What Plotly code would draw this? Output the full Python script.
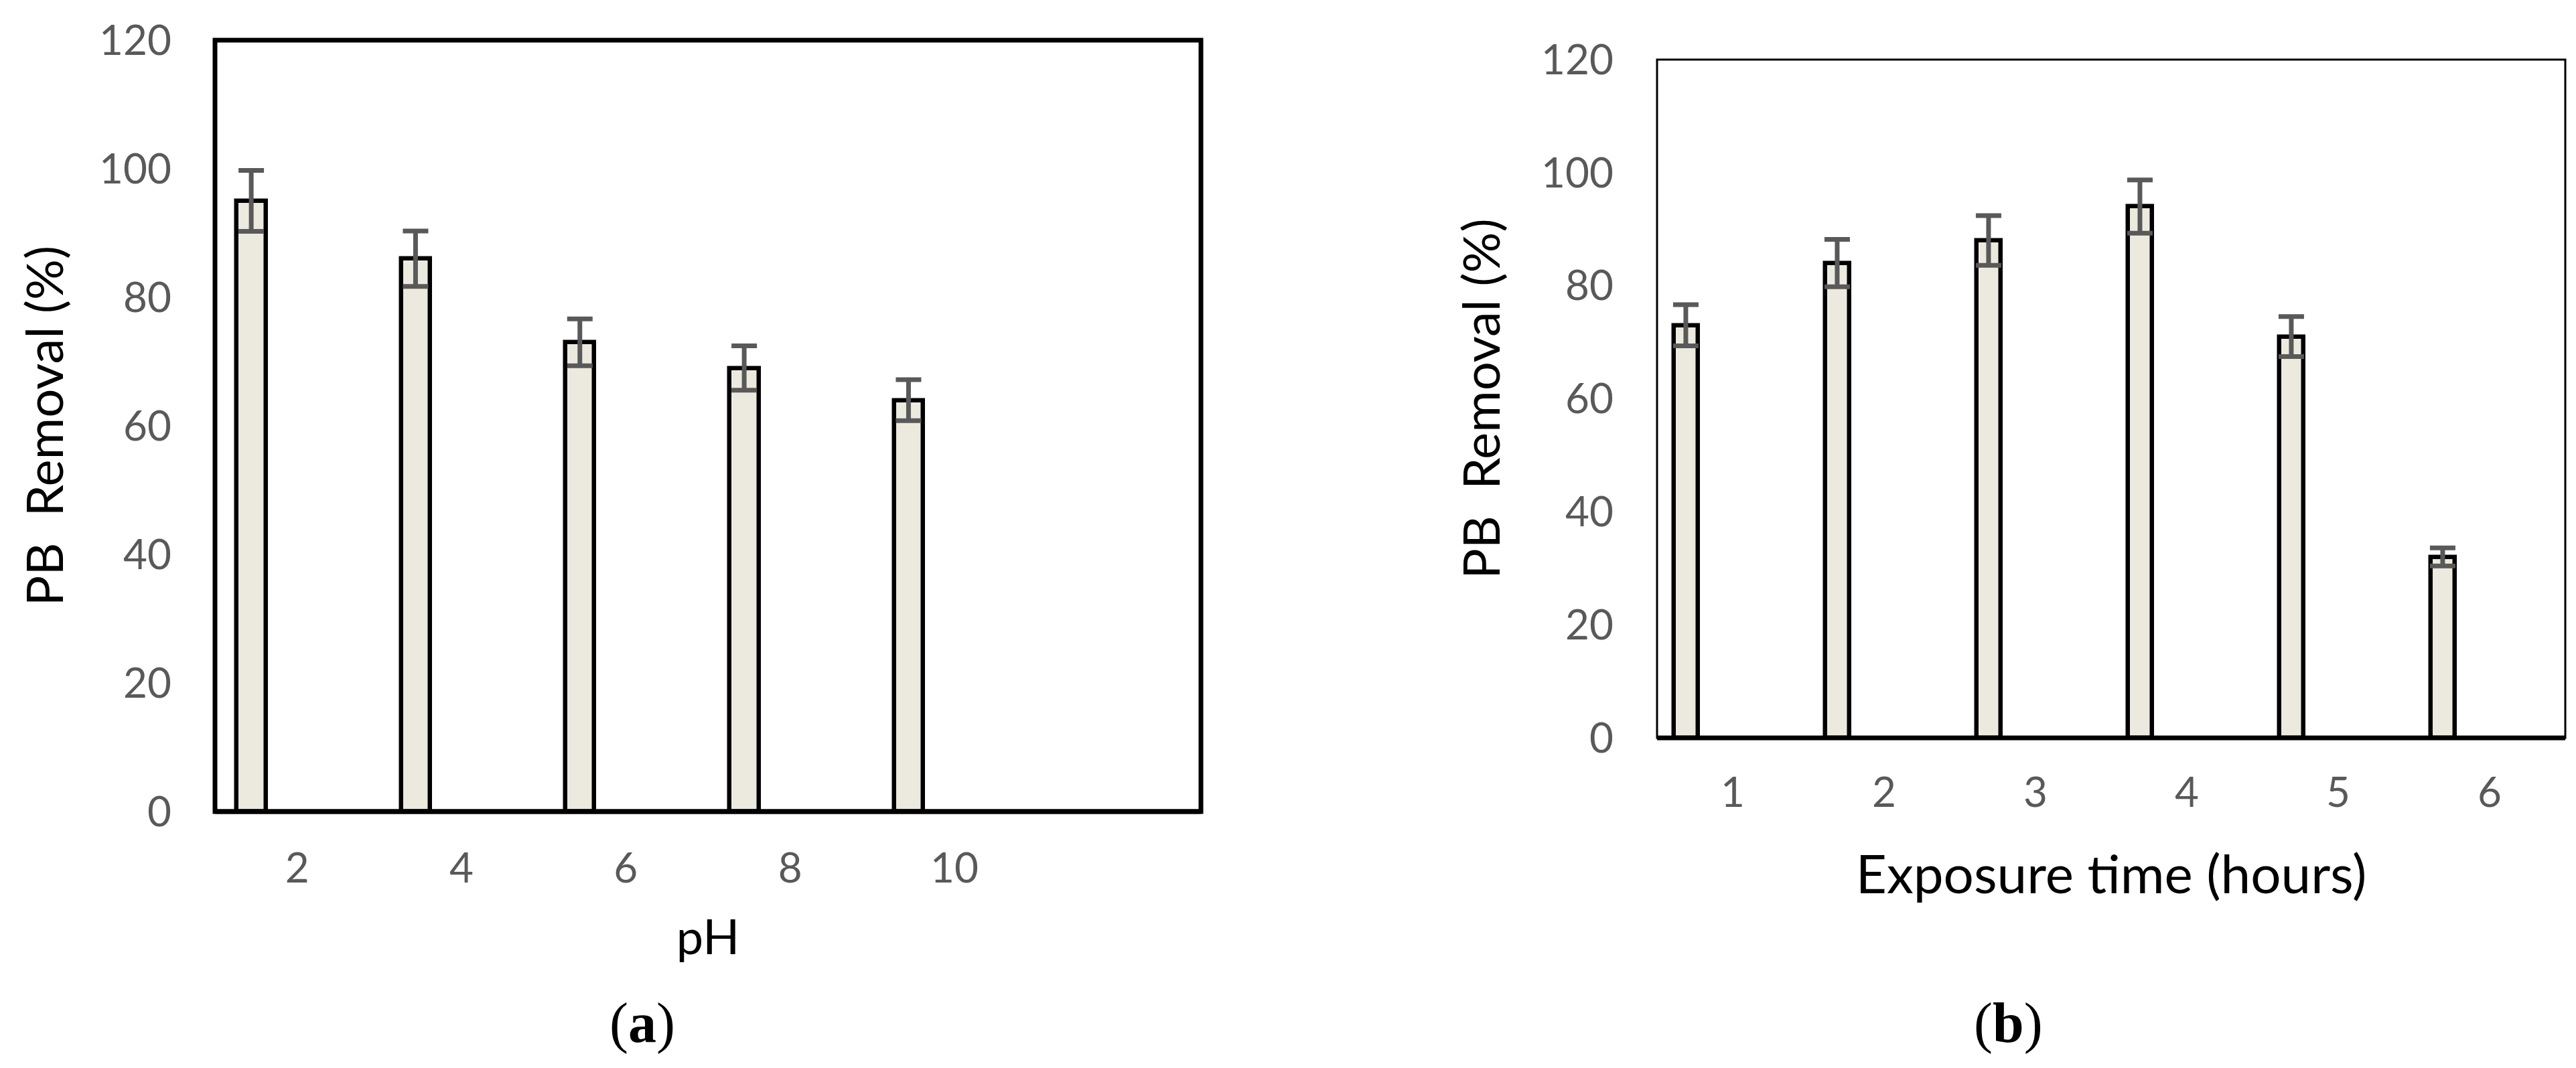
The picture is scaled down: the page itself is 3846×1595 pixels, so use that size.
import plotly.graph_objects as go

# (a) effect of pH
ph_labels = ["2", "4", "6", "8", "10"]
ph_removal = [95, 86, 73, 69, 64]

# (b) effect of exposure time
time_labels = ["1", "2", "3", "4", "5", "6"]
time_removal = [73, 84, 88, 94, 71, 32]

ERR_PCT = 5  # error bars shown as 5 % of the value
y_ticks = [0, 20, 40, 60, 80, 100, 120]

W, H = 3846, 1595
BAR_FILL = "#ECEADF"
GREY = "#595959"
SANS = "Lato, Carlito, Calibri, sans-serif"
TICK_FONT = dict(family=SANS, size=62, color=GREY)


def px_x(v):
    return v / W


def px_y(v):
    return 1 - v / H


fig = go.Figure()

fig.add_trace(go.Bar(
    x=list(range(1, len(ph_labels) + 1)),
    y=ph_removal,
    width=0.177, offset=-0.368,
    marker=dict(color=BAR_FILL, line=dict(color="black", width=6.5)),
    error_y=dict(type="percent", value=ERR_PCT, color=GREY, thickness=7, width=19),
    xaxis="x", yaxis="y", showlegend=False,
))

fig.add_trace(go.Bar(
    x=list(range(1, len(time_labels) + 1)),
    y=time_removal,
    width=0.156, offset=-0.388,
    marker=dict(color=BAR_FILL, line=dict(color="black", width=6.5)),
    error_y=dict(type="percent", value=ERR_PCT, color=GREY, thickness=7, width=19),
    xaxis="x2", yaxis="y2", showlegend=False,
))

fig.update_layout(
    width=W, height=H,
    margin=dict(l=0, r=0, t=0, b=0),
    paper_bgcolor="white", plot_bgcolor="white",
    bargap=0,
    # ===== panel (a) =====
    xaxis=dict(
        domain=[px_x(313), px_x(1785)],
        range=[0.5, 6.5],
        tickvals=list(range(1, len(ph_labels) + 1)), ticktext=ph_labels,
        tickfont=TICK_FONT, ticklabelstandoff=43,
        showgrid=False, zeroline=False, automargin=False, showline=False,
        title=dict(text="pH", font=dict(family=SANS, size=72, color="black"), standoff=44),
        anchor="y",
    ),
    yaxis=dict(
        domain=[px_y(1204), px_y(52)],
        range=[0, 120],
        tickvals=y_ticks,
        tickfont=TICK_FONT, ticklabelstandoff=64,
        showgrid=False, zeroline=False, automargin=False, showline=False,
        title=dict(text="PB  Removal (%)", font=dict(family=SANS, size=76, color="black"), standoff=28),
        anchor="x",
    ),
    # ===== panel (b) =====
    xaxis2=dict(
        domain=[px_x(2466), px_x(3822)],
        range=[0.5, 6.5],
        tickvals=list(range(1, len(time_labels) + 1)), ticktext=time_labels,
        tickfont=TICK_FONT, ticklabelstandoff=40,
        showgrid=False, zeroline=False, automargin=False, showline=False,
        title=dict(text="Exposure time (hours)", font=dict(family=SANS, size=80, color="black"), standoff=60),
        anchor="y2",
    ),
    yaxis2=dict(
        domain=[px_y(1094), px_y(81)],
        range=[0, 120],
        tickvals=y_ticks,
        tickfont=TICK_FONT, ticklabelstandoff=64,
        showgrid=False, zeroline=False, automargin=False, showline=False,
        title=dict(text="PB  Removal (%)", font=dict(family=SANS, size=76, color="black"), standoff=36),
        anchor="x2",
    ),
)

# frames: panel (a) heavy all round, panel (b) thin with a heavy category axis
for ax, frame_w in [("", 7), ("2", 3)]:
    fig.add_shape(type="rect", xref=f"x{ax} domain", yref=f"y{ax} domain",
                  x0=0, x1=1, y0=0, y1=1, line=dict(color="black", width=frame_w))
    fig.add_shape(type="line", xref=f"x{ax} domain", yref=f"y{ax} domain",
                  x0=0, x1=1, y0=0, y1=0, line=dict(color="black", width=7))

# sub-figure labels
for txt, xc in [("(<b>a</b>)", 951), ("(<b>b</b>)", 2990)]:
    fig.add_annotation(
        text=txt, x=px_x(xc), y=px_y(1520), xref="paper", yref="paper",
        showarrow=False, xanchor="center", yanchor="middle",
        font=dict(family="Liberation Serif, Times New Roman, serif", size=84, color="black"),
    )

fig.write_html("out.html")
